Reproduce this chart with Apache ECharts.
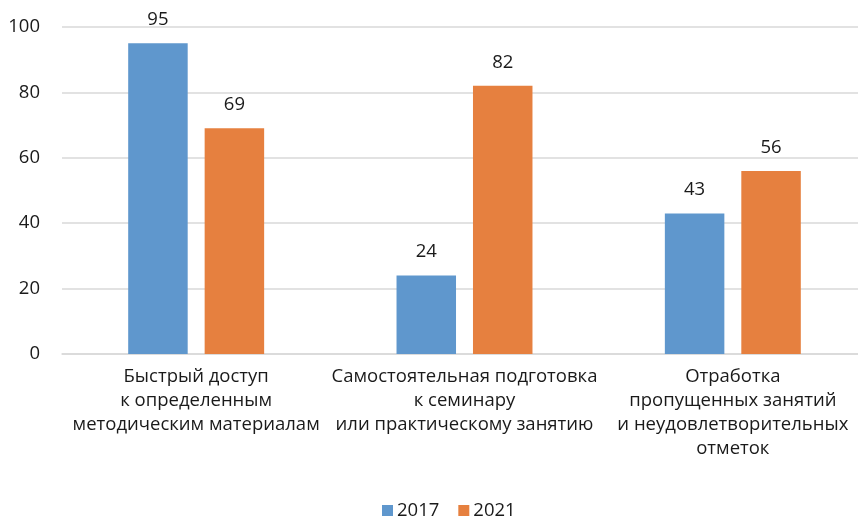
<!DOCTYPE html>
<html>
<head>
<meta charset="utf-8">
<script src="https://cdn.jsdelivr.net/npm/echarts@6/dist/echarts.min.js"></script>
<style>
html,body{margin:0;padding:0;background:#fff;overflow:hidden;width:858px;height:518px;}
#c{width:867px;height:518px;}
</style>
</head>
<body>
<div id="c"></div>
<script>
var categories = [
  "Быстрый доступ\nк определенным\nметодическим материалам",
  "Самостоятельная подготовка\nк семинару\nили практическому занятию",
  "Отработка\nпропущенных занятий\nи неудовлетворительных\nотметок"
];
var seriesNames = ["2017", "2021"];
var values2017 = [95, 24, 43];
var values2021 = [69, 82, 56];
var yTicks = { min: 0, max: 100, interval: 20 };

var font = "'Open Sans', sans-serif";
var fs = 18.5;
var chart = echarts.init(document.getElementById('c'), null, {renderer: 'canvas'});
var labelCfg = { show: true, position: 'top', distance: 14, color: '#1a1a1a', fontSize: fs, fontFamily: font };
chart.setOption({
  animation: false,
  textStyle: { fontFamily: font },
  grid: { left: 62, right: 0, top: 27, height: 327, containLabel: false },
  legend: {
    data: seriesNames,
    top: 501,
    left: 382,
    padding: 0,
    itemWidth: 11,
    itemHeight: 11,
    itemGap: 19,
    icon: 'rect',
    textStyle: { fontSize: fs, color: '#1a1a1a', fontFamily: font, padding: [0,0,0,-1] }
  },
  xAxis: {
    type: 'category',
    data: categories,
    axisLine: { show: true, lineStyle: { color: '#d9d9d9', width: 1.5 } },
    axisTick: { show: false },
    axisLabel: { interval: 0, fontSize: fs, color: '#1a1a1a', lineHeight: 24, margin: 11, align: 'center', fontFamily: font }
  },
  yAxis: {
    type: 'value',
    min: yTicks.min, max: yTicks.max, interval: yTicks.interval,
    axisLine: { show: false },
    axisTick: { show: false },
    axisLabel: { fontSize: fs, color: '#1a1a1a', margin: 22, fontFamily: font },
    splitLine: { lineStyle: { color: '#d9d9d9', width: 1.5 } }
  },
  series: [
    { name: seriesNames[0], type: 'bar', data: values2017, barWidth: 59.5, barGap: '28.5%',
      itemStyle: { color: '#5f97cd' }, label: labelCfg },
    { name: seriesNames[1], type: 'bar', data: values2021, barWidth: 59.5, barGap: '28.5%',
      itemStyle: { color: '#e6803f' }, label: labelCfg }
  ]
});
</script>
</body>
</html>
